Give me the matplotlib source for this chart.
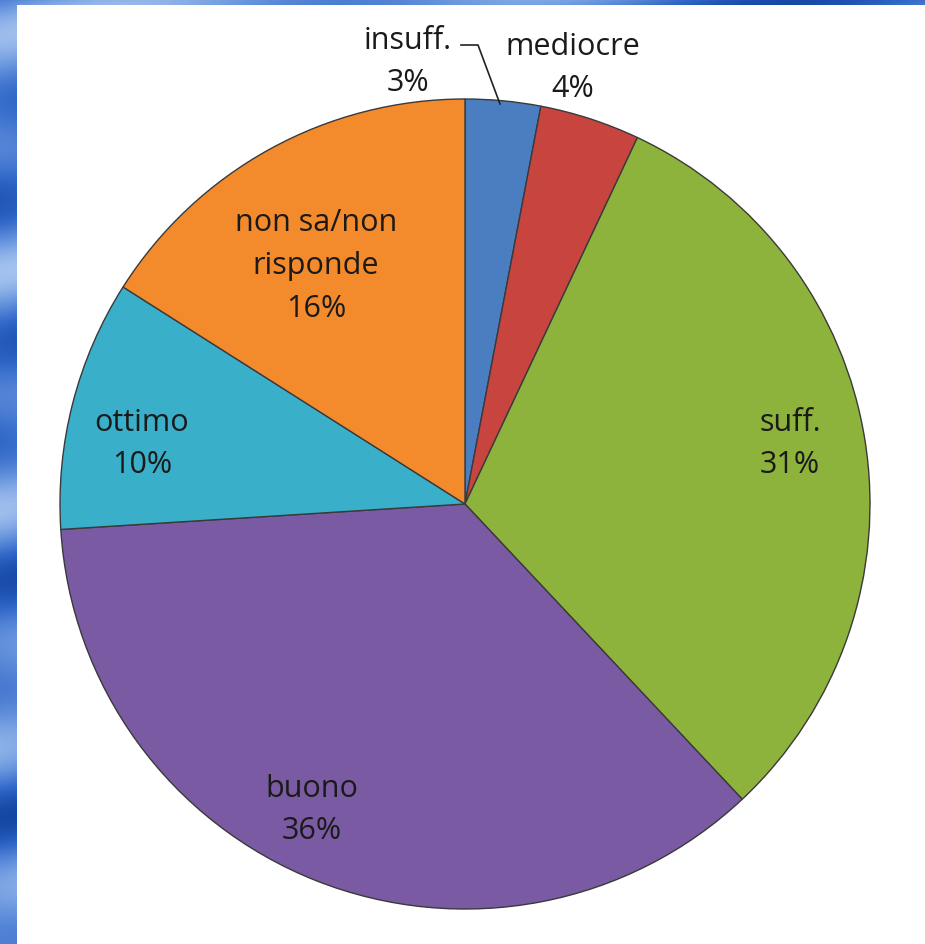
import numpy as np
import matplotlib
matplotlib.use("Agg")
import matplotlib.pyplot as plt
from matplotlib.colors import LinearSegmentedColormap

labels = ["insuff.", "mediocre", "suff.", "buono", "ottimo", "non sa/non\nrisponde"]
values = [3, 4, 31, 36, 10, 16]
colors = ["#4A7EC0", "#C8453F", "#8DB33C", "#7A5BA3", "#3AAFC9", "#F38A2C"]

# label centres in pixel-like coords (y measured from top)
label_pos = [(408, 62), (573, 68), (790, 444), (312, 810), (142, 444), (316, 266)]

W, H = 925, 945
fig = plt.figure(figsize=(W / 100, H / 100), dpi=100)
fig.patch.set_facecolor("#3E6FC6")

# background: blue wavy gradient
bg = fig.add_axes([0, 0, 1, 1])
yy = np.linspace(0, 1, 400)[:, None]
xx = np.linspace(0, 1, 200)[None, :]
tex = 0.5 + 0.4 * np.sin(yy * 38 + xx * 9) * np.cos(yy * 11 - xx * 4)
blues = LinearSegmentedColormap.from_list("bl", ["#0B3A96", "#2F66C8", "#6F9BE0", "#B9D2F4"])
bg.imshow(tex, cmap=blues, vmin=0, vmax=1, aspect="auto", extent=[0, 1, 0, 1])
bg.axis("off")

ax = fig.add_axes([0, 0, 1, 1])
ax.set_xlim(0, W)
ax.set_ylim(0, H)
ax.add_patch(plt.Rectangle((17, 0), W - 17, H - 6, facecolor="white", edgecolor="none"))

cx, cy, r = 465, H - 505, 405
wedges, _ = ax.pie(values, colors=colors, startangle=90, counterclock=False,
                   center=(cx, cy), radius=r, frame=True,
                   wedgeprops=dict(edgecolor="#3a3a3a", linewidth=1.0))
for w in wedges:
    w.set_zorder(2)
# soft shading towards rim
ax.pie(values, colors=["none"] * len(values), startangle=90, counterclock=False,
       center=(cx, cy), radius=r,
       wedgeprops=dict(width=12, facecolor=(0, 0, 0, 0.12), edgecolor="none"))

font = "Open Sans"
for lab, v, (tx, ty) in zip(labels, values, label_pos):
    ax.text(tx, H - ty, f"{lab}\n{v}%", ha="center", va="center", fontsize=22,
            family=font, color="#1a1a1a", linespacing=1.55, zorder=5)

# leader line for insuff.
ax.plot([461, 478, 500], [H - 46, H - 46, H - 105], color="#222222", lw=1.2, zorder=5)

ax.set_xlim(0, W)
ax.set_ylim(0, H)
ax.set_aspect("auto")
ax.axis("off")

fig.savefig("out.png", dpi=100)
